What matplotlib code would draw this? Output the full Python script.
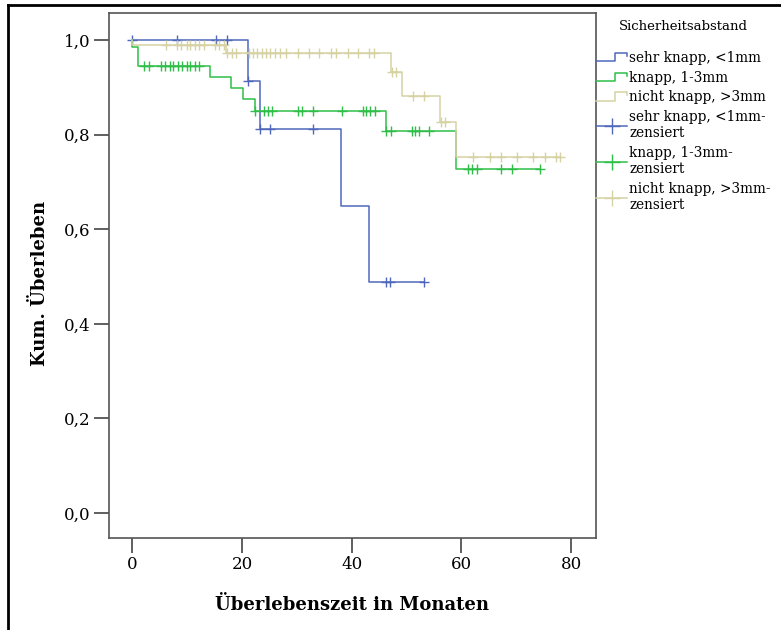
import matplotlib
matplotlib.use('Agg')
import matplotlib.pyplot as plt
import numpy as np
from matplotlib.lines import Line2D
from matplotlib.legend_handler import HandlerBase
from matplotlib.ticker import FuncFormatter

# Kaplan-Meier data (months, survival after event)
blue_events = [21.1, 23.2, 38.1, 43.1]
blue_surv = [0.913, 0.812, 0.650, 0.488]
blue_censored = [0, 8.1, 15.2, 17.2, 21.1, 23.2, 25.2, 33.0, 46.2, 47.0, 53.2]

green_events = [0.0, 1.1, 14.1, 18.0, 20.2, 22.3, 46.2, 59.1]
green_surv = [0.985, 0.946, 0.922, 0.898, 0.875, 0.850, 0.807, 0.728]
green_censored = [2.2, 3.0, 5.3, 6.0, 6.8, 7.5, 8.3, 9.0, 9.9, 10.6, 11.4, 12.1,
                  22.3, 24.1, 24.8, 25.4, 30.2, 31.0, 33.0, 38.3, 42.1, 42.7, 43.3,
                  44.2, 46.3, 47.1, 51.0, 51.6, 52.2, 54.1, 61.2, 62.0, 62.9, 67.2,
                  69.3, 74.3]

beige_events = [0.0, 17.0, 47.1, 49.1, 56.2, 59.1]
beige_surv = [0.989, 0.972, 0.933, 0.883, 0.828, 0.754]
beige_censored = [6.1, 8.1, 8.9, 9.9, 10.6, 11.4, 12.2, 13.0, 15.1, 15.9, 16.7,
                  17.3, 18.2, 19.0, 21.2, 22.1, 22.8, 23.6, 24.4, 25.2, 26.1, 27.0,
                  28.0, 30.2, 32.2, 34.1, 36.3, 37.1, 39.3, 41.2, 43.1, 44.0, 47.3,
                  48.1, 51.2, 53.2, 56.3, 57.1, 62.2, 65.2, 67.2, 70.2, 73.1, 75.2,
                  77.2, 78.0]

group_names = ['sehr knapp, <1mm', 'knapp, 1-3mm', 'nicht knapp, >3mm']
colors = ['#5068bb', '#2fbf48', '#d6d2a4']

x_ticks = [0, 20, 40, 60, 80]
y_ticks = [0.0, 0.2, 0.4, 0.6, 0.8, 1.0]

groups = [(blue_events, blue_surv, blue_censored),
          (green_events, green_surv, green_censored),
          (beige_events, beige_surv, beige_censored)]

serif = 'DejaVu Serif'
plt.rcParams['font.family'] = serif


class StepHandler(HandlerBase):
    def create_artists(self, legend, orig_handle, xdescent, ydescent,
                       width, height, fontsize, trans):
        x0 = -xdescent
        y0 = -ydescent
        xs = [x0, x0 + 0.6 * width, x0 + 0.6 * width, x0 + width, x0 + width]
        ys = [y0 + 0.1 * height, y0 + 0.1 * height, y0 + 0.95 * height,
              y0 + 0.95 * height, y0 + 0.65 * height]
        line = Line2D(xs, ys, color=orig_handle.get_color(),
                      lw=orig_handle.get_linewidth(), transform=trans)
        return [line]


fig = plt.figure(figsize=(7.81, 6.30), dpi=100)
ax = fig.add_axes([108.7 / 781, 1 - 538 / 630, (595.7 - 108.7) / 781, (538 - 13.3) / 630])

step_handles = []
cens_handles = []
for (ev, sv, cens), col, name in zip(groups, colors, group_names):
    t_end = max(max(cens), max(ev))
    xs = np.array([0] + ev + [t_end])
    ys = np.array([1.0] + sv + [sv[-1]])
    ln, = ax.step(xs, ys, where='post', color=col, lw=1.1)
    step_handles.append(ln)
    # censor marks sit on the curve
    idx = np.searchsorted(xs[:-1], cens, side='right') - 1
    ax.plot(cens, ys[idx], linestyle='none', marker='+', color=col,
            markersize=6.5, mew=1.0)
    cens_handles.append(Line2D([], [], color=col, lw=1.1, marker='+',
                               markersize=11, mew=1.0))

ax.set_xlim(-4.3, 84.5)
ax.set_ylim(-0.053, 1.057)
ax.set_xticks(x_ticks)
ax.set_yticks(y_ticks)
ax.yaxis.set_major_formatter(FuncFormatter(lambda v, p: f'{v:.1f}'.replace('.', ',')))
ax.tick_params(direction='out', length=11, width=1.2, colors='#444444',
               labelcolor='black', labelsize=12, pad=2)
for sp in ax.spines.values():
    sp.set_color('#555555')
    sp.set_linewidth(1.2)

fig.text(352 / 781, 1 - 605 / 630, 'Überlebenszeit in Monaten', ha='center',
         va='center', fontsize=13, fontweight='bold')
fig.text(40 / 781, 1 - 283 / 630, 'Kum. Überleben', ha='center', va='center',
         rotation=90, fontsize=13, fontweight='bold')

labels = group_names + [n + '-\nzensiert' for n in group_names]
handler_map = {h: StepHandler() for h in step_handles}
leg = fig.legend(step_handles + cens_handles, labels, loc='upper left',
                 bbox_to_anchor=(596 / 781, 1 - 20 / 630), frameon=False,
                 fontsize=9.8, title='Sicherheitsabstand', title_fontsize=9.5,
                 handlelength=2.3, handletextpad=0.15, labelspacing=0.42,
                 borderpad=0.0, borderaxespad=0.0, handler_map=handler_map,
                 numpoints=1)
for t in leg.get_texts():
    t.set_linespacing(1.2)
leg._legend_box.sep = 13

# page frame (left and top edge)
fig.add_artist(Line2D([8 / 781, 8 / 781], [0, 1 - 5 / 630], color='black', lw=2,
                      transform=fig.transFigure))
fig.add_artist(Line2D([8 / 781, 1], [1 - 5 / 630, 1 - 5 / 630], color='black', lw=2,
                      transform=fig.transFigure))

fig.savefig('out.png', dpi=100)
